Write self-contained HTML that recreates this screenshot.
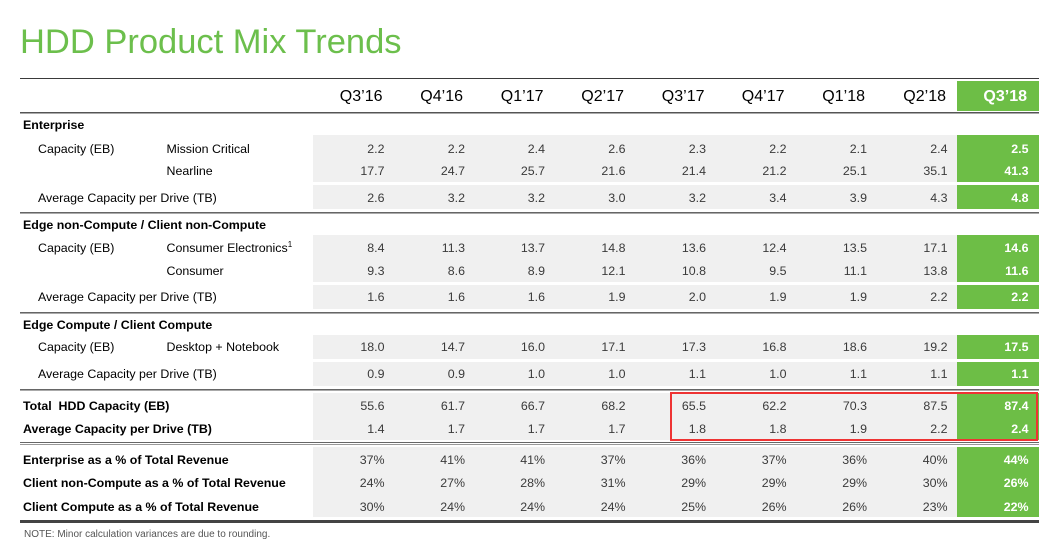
<!DOCTYPE html>
<html><head><meta charset="utf-8">
<style>
html,body{margin:0;padding:0;background:#fff;}
body{width:1061px;height:545px;position:relative;overflow:hidden;font-family:"Liberation Sans",Arial,sans-serif;}
.a{position:absolute;white-space:nowrap;}
.title{left:20px;top:22px;font-size:34.5px;line-height:40px;color:#6cbf4c;}
.ln{position:absolute;left:20px;width:1019px;}
.band{position:absolute;left:313px;width:644px;background:#f0f0f0;}
.gb{position:absolute;left:957px;width:82px;background:#6dbe46;}
.t{position:absolute;font-size:12.4px;line-height:14px;color:#000;white-space:nowrap;}
.b{font-weight:bold;}
.n{position:absolute;font-size:12.4px;line-height:14px;color:#3a3a3a;width:100px;text-align:right;white-space:nowrap;}
.w{color:#fff;font-weight:bold;}
.h{position:absolute;font-size:16px;line-height:18px;top:88px;color:#000;width:100px;text-align:right;white-space:nowrap;}
sup{font-size:8px;line-height:0;vertical-align:5px;}
.note{left:24px;top:528.5px;font-size:10px;line-height:12px;color:#555;}
.red{position:absolute;left:670px;top:391.5px;width:364px;height:45px;border:2px solid #ee3333;}
</style></head><body>
<div class="a title">HDD Product Mix Trends</div>

<!-- lines -->
<div class="ln" style="top:78px;height:1px;background:#3a3a3a;"></div>
<div class="ln" style="top:112px;height:1px;background:#555;"></div>
<div class="ln" style="top:113px;height:1px;background:#aaa;"></div>
<div class="ln" style="top:212px;height:1px;background:#666;"></div>
<div class="ln" style="top:213px;height:1px;background:#aaa;"></div>
<div class="ln" style="top:312px;height:1px;background:#666;"></div>
<div class="ln" style="top:313px;height:1px;background:#aaa;"></div>
<div class="ln" style="top:389px;height:1px;background:#666;"></div>
<div class="ln" style="top:390px;height:1px;background:#aaa;"></div>
<div class="ln" style="top:442px;height:1px;background:#666;"></div>
<div class="ln" style="top:444px;height:1px;background:#999;"></div>
<div class="ln" style="top:520px;height:3px;background:#444;"></div>

<!-- bands -->
<div class="band" style="top:135px;height:47px;"></div>
<div class="band" style="top:185px;height:23.5px;"></div>
<div class="band" style="top:235px;height:47px;"></div>
<div class="band" style="top:285px;height:23.5px;"></div>
<div class="band" style="top:335px;height:23.5px;"></div>
<div class="band" style="top:362px;height:23.5px;"></div>
<div class="band" style="top:393px;height:47px;"></div>
<div class="band" style="top:447px;height:70px;"></div>

<div class="gb" style="top:81px;height:30px;"></div>
<div class="gb" style="top:135px;height:47px;"></div>
<div class="gb" style="top:185px;height:23.5px;"></div>
<div class="gb" style="top:235px;height:47px;"></div>
<div class="gb" style="top:285px;height:23.5px;"></div>
<div class="gb" style="top:335px;height:23.5px;"></div>
<div class="gb" style="top:362px;height:23.5px;"></div>
<div class="gb" style="top:393px;height:47px;"></div>
<div class="gb" style="top:447px;height:70px;"></div>

<!-- header -->
<div class="h" style="left:282.5px;">Q3’16</div>
<div class="h" style="left:363px;">Q4’16</div>
<div class="h" style="left:443.5px;">Q1’17</div>
<div class="h" style="left:524px;">Q2’17</div>
<div class="h" style="left:604.5px;">Q3’17</div>
<div class="h" style="left:684.5px;">Q4’17</div>
<div class="h" style="left:765px;">Q1’18</div>
<div class="h" style="left:846px;">Q2’18</div>
<div class="h" style="left:927px;color:#fff;font-weight:bold;">Q3’18</div>

<!-- labels -->
<div class="t b" style="left:23px;top:118px;">Enterprise</div>
<div class="t" style="left:38px;top:141.5px;">Capacity (EB)</div>
<div class="t" style="left:166.5px;top:141.5px;">Mission Critical</div>
<div class="t" style="left:166.5px;top:164px;">Nearline</div>
<div class="t" style="left:38px;top:190.5px;">Average Capacity per Drive (TB)</div>

<div class="t b" style="left:23px;top:217.5px;">Edge non-Compute / Client non-Compute</div>
<div class="t" style="left:38px;top:240.5px;">Capacity (EB)</div>
<div class="t" style="left:166.5px;top:240.5px;">Consumer Electronics<sup>1</sup></div>
<div class="t" style="left:166.5px;top:263.5px;">Consumer</div>
<div class="t" style="left:38px;top:290.3px;">Average Capacity per Drive (TB)</div>

<div class="t b" style="left:23px;top:317.5px;">Edge Compute / Client Compute</div>
<div class="t" style="left:38px;top:340.3px;">Capacity (EB)</div>
<div class="t" style="left:166.5px;top:340.3px;">Desktop + Notebook</div>
<div class="t" style="left:38px;top:367px;">Average Capacity per Drive (TB)</div>

<div class="t b" style="left:23px;top:399px;">Total&nbsp; HDD Capacity (EB)</div>
<div class="t b" style="left:23px;top:422.3px;">Average Capacity per Drive (TB)</div>

<div class="t b" style="left:23px;top:453.3px;">Enterprise as a % of Total Revenue</div>
<div class="t b" style="left:23px;top:476.3px;">Client non-Compute as a % of Total Revenue</div>
<div class="t b" style="left:23px;top:499.6px;">Client Compute as a % of Total Revenue</div>

<div id="nums"></div>

<div class="red"></div>
<div class="a note">NOTE: Minor calculation variances are due to rounding.</div>

<!-- numbers (static) -->
<div style="position:absolute;left:0;top:0;">
<!-- row 1 top 141.5 -->
<div class="n" style="left:284.5px;top:141.5px;">2.2</div><div class="n" style="left:365px;top:141.5px;">2.2</div><div class="n" style="left:445px;top:141.5px;">2.4</div><div class="n" style="left:525.5px;top:141.5px;">2.6</div><div class="n" style="left:606px;top:141.5px;">2.3</div><div class="n" style="left:686.5px;top:141.5px;">2.2</div><div class="n" style="left:767px;top:141.5px;">2.1</div><div class="n" style="left:847.5px;top:141.5px;">2.4</div><div class="n w" style="left:928.5px;top:141.5px;">2.5</div>
<!-- row 2 top 164 -->
<div class="n" style="left:284.5px;top:164px;">17.7</div><div class="n" style="left:365px;top:164px;">24.7</div><div class="n" style="left:445px;top:164px;">25.7</div><div class="n" style="left:525.5px;top:164px;">21.6</div><div class="n" style="left:606px;top:164px;">21.4</div><div class="n" style="left:686.5px;top:164px;">21.2</div><div class="n" style="left:767px;top:164px;">25.1</div><div class="n" style="left:847.5px;top:164px;">35.1</div><div class="n w" style="left:928.5px;top:164px;">41.3</div>
<!-- row 3 top 190.5 -->
<div class="n" style="left:284.5px;top:190.5px;">2.6</div><div class="n" style="left:365px;top:190.5px;">3.2</div><div class="n" style="left:445px;top:190.5px;">3.2</div><div class="n" style="left:525.5px;top:190.5px;">3.0</div><div class="n" style="left:606px;top:190.5px;">3.2</div><div class="n" style="left:686.5px;top:190.5px;">3.4</div><div class="n" style="left:767px;top:190.5px;">3.9</div><div class="n" style="left:847.5px;top:190.5px;">4.3</div><div class="n w" style="left:928.5px;top:190.5px;">4.8</div>
<!-- row 4 top 240.5 -->
<div class="n" style="left:284.5px;top:240.5px;">8.4</div><div class="n" style="left:365px;top:240.5px;">11.3</div><div class="n" style="left:445px;top:240.5px;">13.7</div><div class="n" style="left:525.5px;top:240.5px;">14.8</div><div class="n" style="left:606px;top:240.5px;">13.6</div><div class="n" style="left:686.5px;top:240.5px;">12.4</div><div class="n" style="left:767px;top:240.5px;">13.5</div><div class="n" style="left:847.5px;top:240.5px;">17.1</div><div class="n w" style="left:928.5px;top:240.5px;">14.6</div>
<!-- row 5 top 263.5 -->
<div class="n" style="left:284.5px;top:263.5px;">9.3</div><div class="n" style="left:365px;top:263.5px;">8.6</div><div class="n" style="left:445px;top:263.5px;">8.9</div><div class="n" style="left:525.5px;top:263.5px;">12.1</div><div class="n" style="left:606px;top:263.5px;">10.8</div><div class="n" style="left:686.5px;top:263.5px;">9.5</div><div class="n" style="left:767px;top:263.5px;">11.1</div><div class="n" style="left:847.5px;top:263.5px;">13.8</div><div class="n w" style="left:928.5px;top:263.5px;">11.6</div>
<!-- row 6 top 290.3 -->
<div class="n" style="left:284.5px;top:290.3px;">1.6</div><div class="n" style="left:365px;top:290.3px;">1.6</div><div class="n" style="left:445px;top:290.3px;">1.6</div><div class="n" style="left:525.5px;top:290.3px;">1.9</div><div class="n" style="left:606px;top:290.3px;">2.0</div><div class="n" style="left:686.5px;top:290.3px;">1.9</div><div class="n" style="left:767px;top:290.3px;">1.9</div><div class="n" style="left:847.5px;top:290.3px;">2.2</div><div class="n w" style="left:928.5px;top:290.3px;">2.2</div>
<!-- row 7 top 340.3 -->
<div class="n" style="left:284.5px;top:340.3px;">18.0</div><div class="n" style="left:365px;top:340.3px;">14.7</div><div class="n" style="left:445px;top:340.3px;">16.0</div><div class="n" style="left:525.5px;top:340.3px;">17.1</div><div class="n" style="left:606px;top:340.3px;">17.3</div><div class="n" style="left:686.5px;top:340.3px;">16.8</div><div class="n" style="left:767px;top:340.3px;">18.6</div><div class="n" style="left:847.5px;top:340.3px;">19.2</div><div class="n w" style="left:928.5px;top:340.3px;">17.5</div>
<!-- row 8 top 367 -->
<div class="n" style="left:284.5px;top:367px;">0.9</div><div class="n" style="left:365px;top:367px;">0.9</div><div class="n" style="left:445px;top:367px;">1.0</div><div class="n" style="left:525.5px;top:367px;">1.0</div><div class="n" style="left:606px;top:367px;">1.1</div><div class="n" style="left:686.5px;top:367px;">1.0</div><div class="n" style="left:767px;top:367px;">1.1</div><div class="n" style="left:847.5px;top:367px;">1.1</div><div class="n w" style="left:928.5px;top:367px;">1.1</div>
<!-- row 9 top 399 -->
<div class="n" style="left:284.5px;top:399px;">55.6</div><div class="n" style="left:365px;top:399px;">61.7</div><div class="n" style="left:445px;top:399px;">66.7</div><div class="n" style="left:525.5px;top:399px;">68.2</div><div class="n" style="left:606px;top:399px;">65.5</div><div class="n" style="left:686.5px;top:399px;">62.2</div><div class="n" style="left:767px;top:399px;">70.3</div><div class="n" style="left:847.5px;top:399px;">87.5</div><div class="n w" style="left:928.5px;top:399px;">87.4</div>
<!-- row 10 top 422.3 -->
<div class="n" style="left:284.5px;top:422.3px;">1.4</div><div class="n" style="left:365px;top:422.3px;">1.7</div><div class="n" style="left:445px;top:422.3px;">1.7</div><div class="n" style="left:525.5px;top:422.3px;">1.7</div><div class="n" style="left:606px;top:422.3px;">1.8</div><div class="n" style="left:686.5px;top:422.3px;">1.8</div><div class="n" style="left:767px;top:422.3px;">1.9</div><div class="n" style="left:847.5px;top:422.3px;">2.2</div><div class="n w" style="left:928.5px;top:422.3px;">2.4</div>
<!-- row 11 top 453.3 -->
<div class="n" style="left:284.5px;top:453.3px;">37%</div><div class="n" style="left:365px;top:453.3px;">41%</div><div class="n" style="left:445px;top:453.3px;">41%</div><div class="n" style="left:525.5px;top:453.3px;">37%</div><div class="n" style="left:606px;top:453.3px;">36%</div><div class="n" style="left:686.5px;top:453.3px;">37%</div><div class="n" style="left:767px;top:453.3px;">36%</div><div class="n" style="left:847.5px;top:453.3px;">40%</div><div class="n w" style="left:928.5px;top:453.3px;">44%</div>
<!-- row 12 top 476.3 -->
<div class="n" style="left:284.5px;top:476.3px;">24%</div><div class="n" style="left:365px;top:476.3px;">27%</div><div class="n" style="left:445px;top:476.3px;">28%</div><div class="n" style="left:525.5px;top:476.3px;">31%</div><div class="n" style="left:606px;top:476.3px;">29%</div><div class="n" style="left:686.5px;top:476.3px;">29%</div><div class="n" style="left:767px;top:476.3px;">29%</div><div class="n" style="left:847.5px;top:476.3px;">30%</div><div class="n w" style="left:928.5px;top:476.3px;">26%</div>
<!-- row 13 top 499.6 -->
<div class="n" style="left:284.5px;top:499.6px;">30%</div><div class="n" style="left:365px;top:499.6px;">24%</div><div class="n" style="left:445px;top:499.6px;">24%</div><div class="n" style="left:525.5px;top:499.6px;">24%</div><div class="n" style="left:606px;top:499.6px;">25%</div><div class="n" style="left:686.5px;top:499.6px;">26%</div><div class="n" style="left:767px;top:499.6px;">26%</div><div class="n" style="left:847.5px;top:499.6px;">23%</div><div class="n w" style="left:928.5px;top:499.6px;">22%</div>
</div>
</body></html>
